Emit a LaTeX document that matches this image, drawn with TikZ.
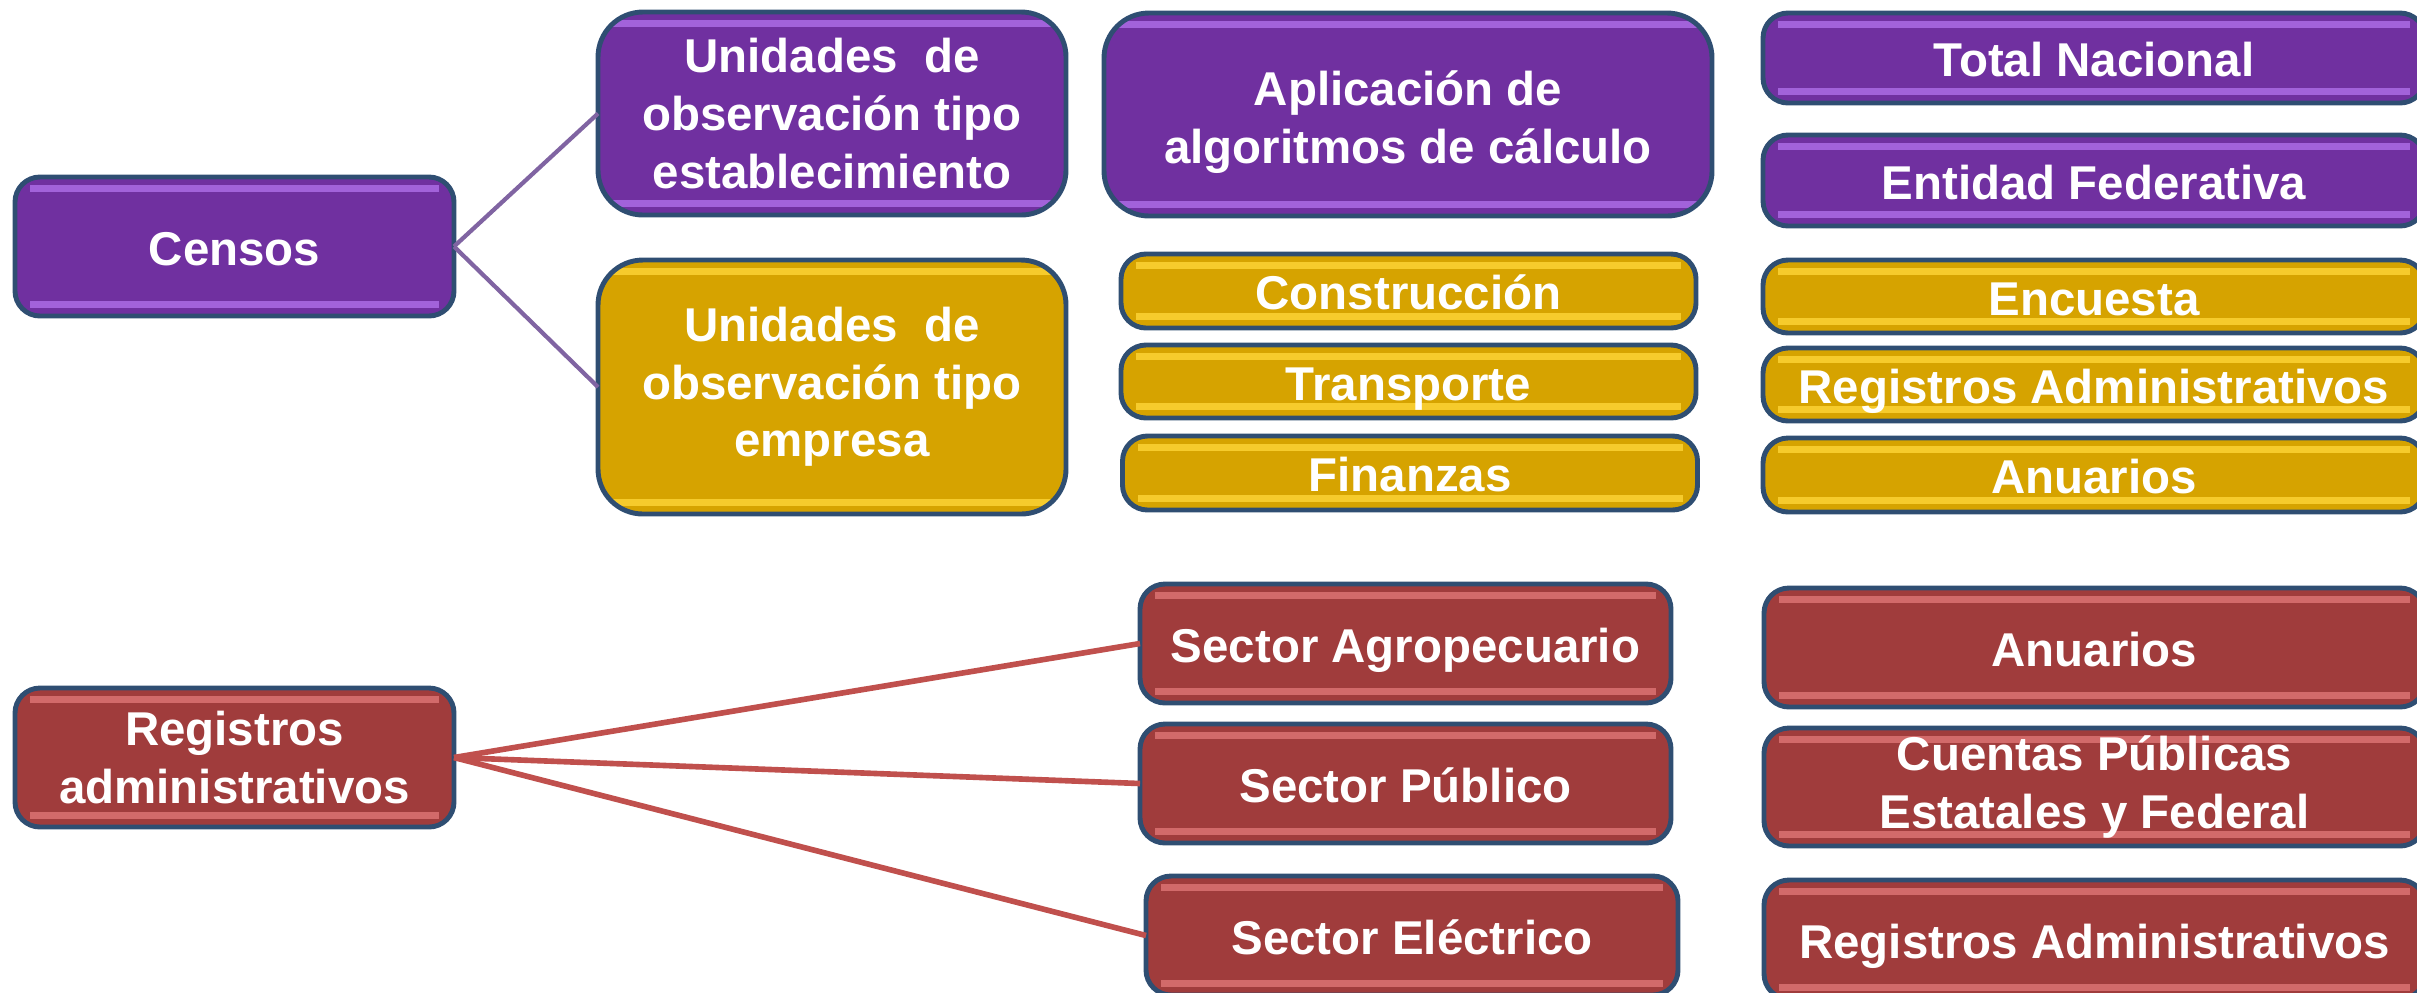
\documentclass[tikz,border=0pt]{standalone}
\usepackage{fontspec}
\setmainfont{Liberation Sans}
\usepackage{tikz}
\usetikzlibrary{positioning,calc}
\definecolor{morado}{HTML}{7030A0}
\definecolor{moradoclaro}{HTML}{A262DA}
\definecolor{oro}{HTML}{D6A300}
\definecolor{oroclaro}{HTML}{F6CB2C}
\definecolor{rojo}{HTML}{A03C3C}
\definecolor{rojoclaro}{HTML}{D26A6A}
\definecolor{borde}{HTML}{2F4E72}
\definecolor{lineamorada}{HTML}{8064A2}
\definecolor{linearoja}{HTML}{C0504D}
\tikzset{
  mybox/.style={
      draw=borde, line width=1.4pt, rounded corners=0.25cm,
      text=white, align=center, inner sep=0pt, outer sep=0pt,
      font=\bfseries\fontsize{13.5}{16.4}\selectfont
    },
  shine/.style={
      path picture={
          \fill[#1, sharp corners] ([xshift=0.15cm,yshift=-0.08cm]path picture bounding box.north west)
            rectangle ([xshift=-0.15cm,yshift=-0.15cm]path picture bounding box.north east);
          \fill[#1, sharp corners] ([xshift=0.15cm,yshift=0.08cm]path picture bounding box.south west)
            rectangle ([xshift=-0.15cm,yshift=0.15cm]path picture bounding box.south east);
        }
    },
  purplebox/.style={mybox, fill=morado, shine=moradoclaro},
  goldbox/.style={mybox, fill=oro, shine=oroclaro},
  redbox/.style={mybox, fill=rojo, shine=rojoclaro},
  bigbox/.style={rounded corners=0.45cm},
  oneline/.style={text height=0.44cm, text depth=0.07cm},
  sz/.style 2 args={minimum width=#1cm, minimum height=#2cm},
  purpleline/.style={draw=lineamorada, line width=1.2pt},
  redline/.style={draw=linearoja, line width=1.6pt}
}
\begin{document}
\begin{tikzpicture}
\clip (0,0) rectangle (24.17,-9.92);
% censos
\node[purplebox, oneline, sz={4.39}{1.39}] at (2.345,-2.465) (censos) {Censos};
\node[purplebox, bigbox, sz={4.68}{2.03}] at (8.32,-1.135) (uest)
  {Unidades\ \ de\\observación tipo\\establecimiento};
\node[goldbox, bigbox, sz={4.68}{2.54}] at (8.32,-3.87) (uemp)
  {Unidades\ \ de\\observación tipo\\empresa};
\node[purplebox, bigbox, sz={6.08}{2.03}] at (14.08,-1.145) (aplic)
  {\rule{0pt}{0.5cm}Aplicación de\\algoritmos de cálculo};
\node[purplebox, oneline, sz={6.62}{0.90}] at (20.94,-0.58) (total) {Total Nacional};
\node[purplebox, oneline, sz={6.62}{0.91}] at (20.94,-1.805) (entidad) {Entidad Federativa};
\node[goldbox, oneline, sz={5.75}{0.74}] at (14.085,-2.91) (constr) {Construcción};
\node[goldbox, oneline, sz={5.75}{0.73}] at (14.085,-3.815) (transp) {Transporte};
\node[goldbox, oneline, sz={5.75}{0.74}] at (14.10,-4.73) (finanz) {Finanzas};
\node[goldbox, oneline, sz={6.62}{0.73}] at (20.94,-2.965) (encuesta) {Encuesta};
\node[goldbox, oneline, sz={6.62}{0.73}] at (20.94,-3.845) (regadmoro) {Registros Administrativos};
\node[goldbox, oneline, sz={6.62}{0.74}] at (20.94,-4.75) (anuaoro) {Anuarios};

% registros administrativos
\node[redbox, sz={4.39}{1.39}] at (2.345,-7.575) (regadm) {Registros\\administrativos};
\node[redbox, oneline, sz={5.31}{1.19}] at (14.055,-6.435) (agro) {Sector Agropecuario};
\node[redbox, oneline, sz={5.31}{1.19}] at (14.055,-7.835) (publico) {Sector Público};
\node[redbox, oneline, sz={5.32}{1.19}] at (14.12,-9.355) (electr) {Sector Eléctrico};
\node[redbox, oneline, sz={6.61}{1.19}] at (20.945,-6.475) (anuarojo) {Anuarios};
\node[redbox, sz={6.61}{1.18}] at (20.945,-7.87) (cuentas)
  {Cuentas Públicas\\Estatales y Federal};
\node[redbox, oneline, sz={6.61}{1.19}] at (20.945,-9.395) (regadmrojo) {Registros Administrativos};

%the connectors
\draw[purpleline] (censos.east) -- (uest.west);
\draw[purpleline] (censos.east) -- (uemp.west);
\draw[redline] (regadm.east) -- (agro.west);
\draw[redline] (regadm.east) -- (publico.west);
\draw[redline] (regadm.east) -- (electr.west);
\end{tikzpicture}
\end{document}
